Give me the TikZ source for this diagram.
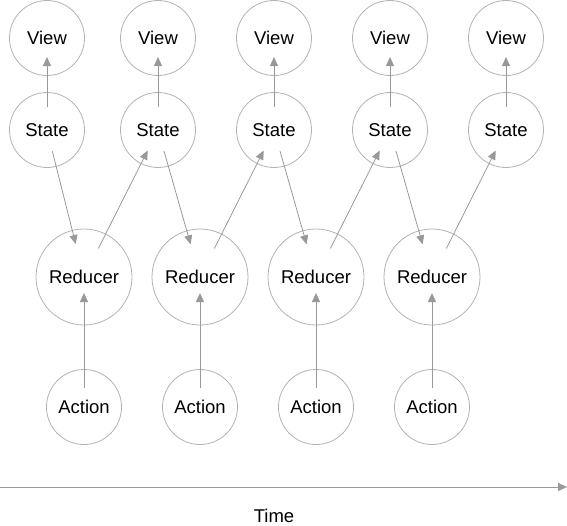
\documentclass[tikz,border=0pt]{standalone}
\usepackage{fontspec}
\setmainfont{Liberation Sans}
\usetikzlibrary{arrows.meta}
\begin{document}
\begin{tikzpicture}[x=1pt,y=-1pt,
    every node/.style={font=\fontsize{18.5}{22}\selectfont},
    ball/.style={circle,draw=black!30,line width=0.8pt,minimum size=75pt,inner sep=0pt},
    bigball/.style={ball,minimum size=96pt},
    link/.style={draw=black!40,line width=0.8pt,-{Triangle[length=9pt,width=8pt]}}]
 \useasboundingbox (0,0) rectangle (567,525);
 \foreach \x [count=\i] in {47,158,274,390,506} {
    \node[ball] (view\i) at (\x,38) {View};
    \node[ball] (state\i) at (\x,130) {State};
    \draw[link,shorten <=23pt,shorten >=19pt] (state\i.center) -- (view\i.center);
 }
 \foreach \x [count=\i] in {84,200,316,432} {
    \node[bigball] (reducer\i) at (\x,277) {Reducer};
    \node[ball] (action\i) at (\x,407) {Action};
    \draw[link,shorten <=19pt,shorten >=16pt] (action\i.center) -- (reducer\i.center);
 }
 \foreach \i in {1,...,4} {
    \pgfmathtruncatemacro\j{\i+1}
    \draw[link,shorten <=22pt,shorten >=34pt] (state\i.center) -- (reducer\i.center);
    \draw[link,shorten <=32pt,shorten >=23pt] (reducer\i.center) -- (state\j.center);
 }
 \coordinate (start) at (0,487);
 \coordinate (stop) at (567,487);
 \draw[link] (start) -- (stop);
 \node[inner sep=0pt] (time) at (274,516) {Time};
\end{tikzpicture}
\end{document}
